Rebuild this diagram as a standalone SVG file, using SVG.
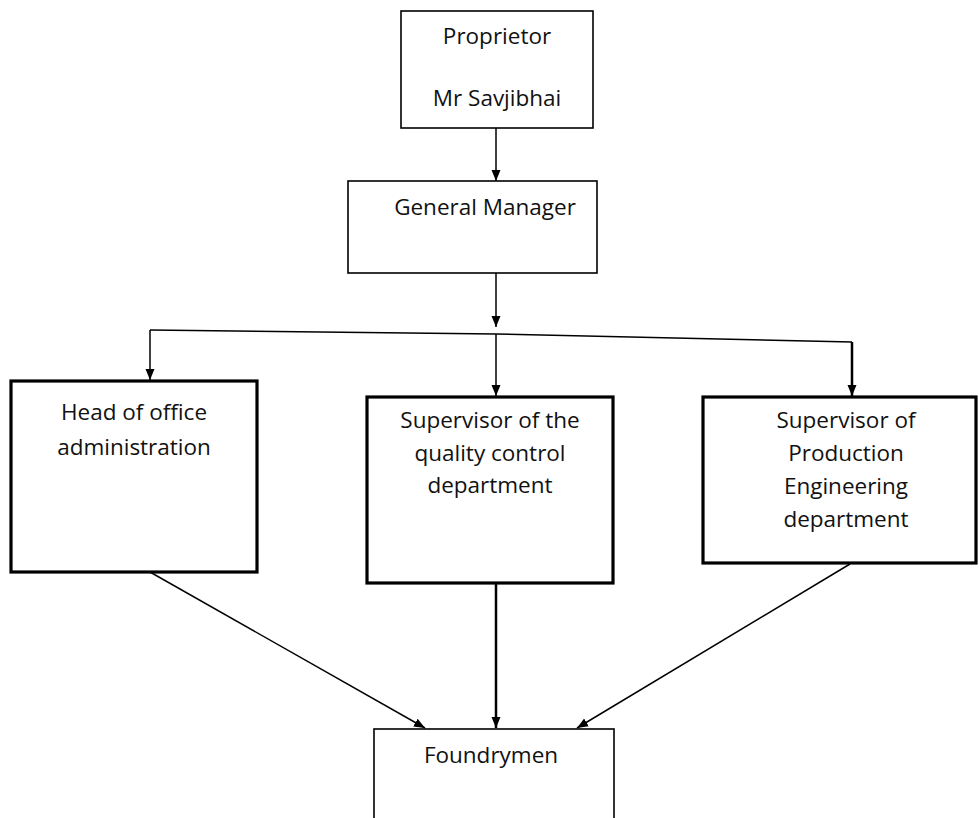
<svg xmlns="http://www.w3.org/2000/svg" width="979" height="818" viewBox="0 0 979 818">
<style>
.thin{fill:#fff;stroke:#000;stroke-width:1.6}
.thick{fill:#fff;stroke:#000;stroke-width:3.2}
.lbl{font-family:"Open Sans","Liberation Sans",sans-serif;font-size:22.5px;fill:#111;text-anchor:middle}
.conn{fill:none;stroke:#000;stroke-width:1.5}
.connb{fill:none;stroke:#000;stroke-width:2.5}
</style>
<defs>
<marker id="ah" markerUnits="userSpaceOnUse" markerWidth="12" markerHeight="12" viewBox="0 0 12 12" refX="11" refY="6" orient="auto">
<path d="M0,1.5 L11,6 L0,10.5 Z" fill="#000"/>
</marker>
</defs>
<rect width="979" height="818" fill="#fff"/>
<g id="connectors">
<line class="conn" x1="496" y1="128" x2="496" y2="181" marker-end="url(#ah)"/>
<line class="conn" x1="496" y1="273" x2="496" y2="327" marker-end="url(#ah)"/>
<polyline class="conn" points="150,330 496,334 852,342"/>
<line class="conn" x1="150" y1="330" x2="150" y2="380" marker-end="url(#ah)"/>
<line class="conn" x1="496" y1="334" x2="496" y2="396" marker-end="url(#ah)"/>
<line class="connb" x1="852" y1="342" x2="852" y2="396" marker-end="url(#ah)"/>
<line class="conn" x1="150" y1="572" x2="425" y2="728" marker-end="url(#ah)"/>
<line class="connb" x1="496" y1="584" x2="496" y2="728" marker-end="url(#ah)"/>
<line class="conn" x1="850" y1="564" x2="577" y2="728" marker-end="url(#ah)"/>
</g>
<g id="proprietor">
<rect class="thin" x="401" y="11" width="192" height="117"/>
<text class="lbl" x="497" y="44">Proprietor</text>
<text class="lbl" x="497" y="106">Mr Savjibhai</text>
</g>
<g id="general-manager">
<rect class="thin" x="348" y="181" width="249" height="92"/>
<text class="lbl" x="485" y="215">General Manager</text>
</g>
<g id="head-office">
<rect class="thick" x="11" y="381" width="246" height="191"/>
<text class="lbl" x="134" y="420">Head of office</text>
<text class="lbl" x="134" y="455">administration</text>
</g>
<g id="quality-control">
<rect class="thick" x="367" y="397" width="246" height="186"/>
<text class="lbl" x="490" y="428">Supervisor of the</text>
<text class="lbl" x="490" y="461">quality control</text>
<text class="lbl" x="490" y="493">department</text>
</g>
<g id="production-engineering">
<rect class="thick" x="703" y="397" width="273" height="166"/>
<text class="lbl" x="846" y="428">Supervisor of</text>
<text class="lbl" x="846" y="461">Production</text>
<text class="lbl" x="846" y="494">Engineering</text>
<text class="lbl" x="846" y="527">department</text>
</g>
<g id="foundrymen">
<rect class="thin" x="374" y="729" width="240" height="100"/>
<text class="lbl" x="491" y="763">Foundrymen</text>
</g>
</svg>
